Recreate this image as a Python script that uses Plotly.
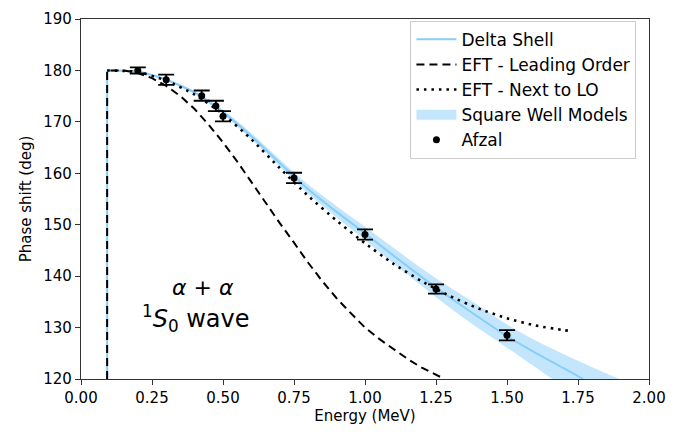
import plotly.graph_objects as go

# Afzal data
afzal_E = [0.20, 0.30, 0.425, 0.475, 0.50, 0.75, 1.00, 1.25, 1.50]
afzal_phase = [180.0, 178.2, 175.1, 173.1, 171.1, 159.1, 148.1, 137.5, 128.5]
afzal_err = [0.6, 1.0, 1.0, 1.0, 1.0, 1.0, 1.0, 0.9, 1.0]

# Threshold (vertical jump)
thr_E = [0.092, 0.092]
thr_phase = [120, 180]

# Delta shell
delta_E = [0.092, 0.2, 0.3, 0.4, 0.5, 0.6, 0.7, 0.8, 0.9, 1.0, 1.1, 1.2, 1.3, 1.4, 1.5, 1.6, 1.7, 1.768]
delta_phase = [180, 179.8, 178.2, 175.7, 171.9, 167.2, 162.0, 156.9, 152.5, 148.3, 144.0, 139.8, 135.8, 132.0, 128.3, 125.1, 122.1, 120.0]

# Square well band
band_E = [0.092, 0.2, 0.3, 0.4, 0.5, 0.6, 0.7, 0.8, 0.9, 1.0, 1.1, 1.2, 1.3, 1.4, 1.5, 1.6, 1.7, 1.8, 1.9]
band_upper = [180, 179.9, 178.4, 176.0, 172.3, 167.8, 162.7, 157.8, 153.6, 149.6, 145.5, 141.5, 137.8, 134.3, 130.6, 127.5, 124.8, 122.3, 119.9]
band_lower = [180, 179.7, 178.0, 175.4, 171.5, 166.6, 161.3, 156.0, 151.4, 147.0, 142.5, 138.1, 133.8, 129.8, 126.1, 122.3, 118.5, 115.0, 111.5]

# EFT leading order
lo_E = [0.092, 0.092, 0.15, 0.2, 0.25, 0.3, 0.35, 0.4, 0.45, 0.5, 0.55, 0.6, 0.65, 0.7, 0.75, 0.8, 0.85, 0.9, 0.95, 1.0, 1.05, 1.1, 1.15, 1.2, 1.25, 1.28]
lo_phase = [120, 180, 180, 179.5, 178.5, 177.0, 175.0, 172.5, 169.4, 166.0, 162.3, 158.3, 154.2, 150.3, 146.5, 142.6, 139.0, 135.7, 132.8, 130.0, 127.8, 125.8, 123.9, 122.2, 120.8, 120.0]

# EFT next to leading order
nlo_E = [0.092, 0.2, 0.3, 0.4, 0.5, 0.6, 0.7, 0.8, 0.9, 1.0, 1.1, 1.2, 1.3, 1.4, 1.5, 1.6, 1.7, 1.73]
nlo_phase = [180, 179.7, 178.0, 175.3, 171.5, 166.6, 161.0, 155.6, 150.8, 146.4, 142.4, 139.0, 136.1, 133.7, 131.8, 130.4, 129.5, 129.3]

x_ticks = [0.0, 0.25, 0.5, 0.75, 1.0, 1.25, 1.5, 1.75, 2.0]
x_ticklabels = ["0.00", "0.25", "0.50", "0.75", "1.00", "1.25", "1.50", "1.75", "2.00"]
y_ticks = [120, 130, 140, 150, 160, 170, 180, 190]

BLUE = "#87CEFA"
BAND = "rgba(135,206,250,0.5)"
FONT = "DejaVu Sans"

fig = go.Figure()

fig.add_trace(go.Scatter(x=band_E, y=band_upper, mode="lines", line=dict(width=0, color=BLUE, shape="spline"),
                         showlegend=False, hoverinfo="skip"))
fig.add_trace(go.Scatter(x=band_E, y=band_lower, mode="lines", line=dict(width=0, color=BLUE, shape="spline"),
                         fill="tonexty", fillcolor=BAND, showlegend=False, hoverinfo="skip"))

fig.add_trace(go.Scatter(x=thr_E, y=thr_phase, mode="lines", showlegend=False, hoverinfo="skip",
                         line=dict(color=BLUE, width=2)))
fig.add_trace(go.Scatter(x=delta_E, y=delta_phase, mode="lines", name="Delta Shell",
                         line=dict(color=BLUE, width=2, shape="spline", smoothing=0.6)))
fig.add_trace(go.Scatter(x=lo_E, y=lo_phase, mode="lines", name="EFT - Leading Order",
                         line=dict(color="black", width=2, dash="8px,5px")))
fig.add_trace(go.Scatter(x=nlo_E, y=nlo_phase, mode="lines", name="EFT - Next to LO",
                         line=dict(color="black", width=2.6, dash="2.5px,5px", shape="spline", smoothing=0.6)))
# legend proxy for band
fig.add_trace(go.Scatter(x=[None], y=[None], mode="lines", name="Square Well Models",
                         line=dict(color=BAND, width=13)))
fig.add_trace(go.Scatter(x=afzal_E, y=afzal_phase, mode="markers", name="Afzal",
                         marker=dict(color="black", size=7),
                         error_y=dict(type="data", array=afzal_err, color="black", thickness=1.8, width=8)))

fig.add_annotation(x=0.43, y=137.8, xref="x", yref="y",
                   text="<i>α</i> + <i>α</i>", showarrow=False,
                   font=dict(family=FONT, size=22, color="black"))
fig.add_annotation(x=0.405, y=131.7, xref="x", yref="y",
                   text="<sup>1</sup><i>S</i><sub>0</sub> wave", showarrow=False,
                   font=dict(family=FONT, size=24, color="black"))

axis_common = dict(showline=True, linecolor="#333333", linewidth=1.2, mirror=True,
                   ticks="outside", ticklen=5, tickwidth=1.2, tickcolor="#333333",
                   showgrid=False, zeroline=False,
                   tickfont=dict(family=FONT, size=15, color="black"))

fig.update_layout(
    width=696, height=433,
    margin=dict(l=81, r=47, t=10, b=54),
    paper_bgcolor="white", plot_bgcolor="white",
    font=dict(family=FONT, size=15, color="black"),
    xaxis=dict(range=[0, 2.0], tickvals=x_ticks, ticktext=x_ticklabels,
               title=dict(text="Energy (MeV)", font=dict(family=FONT, size=15), standoff=4),
               **axis_common),
    yaxis=dict(range=[120, 190], tickvals=y_ticks,
               title=dict(text="Phase shift (deg)", font=dict(family=FONT, size=15), standoff=8),
               **axis_common),
    legend=dict(x=0.58, y=0.995, xanchor="left", yanchor="top",
                bgcolor="white", bordercolor="#cccccc", borderwidth=1,
                font=dict(family=FONT, size=17, color="black"),
                itemwidth=40, tracegroupgap=0, traceorder="normal"),
    showlegend=True,
)

fig.write_html("out.html")
